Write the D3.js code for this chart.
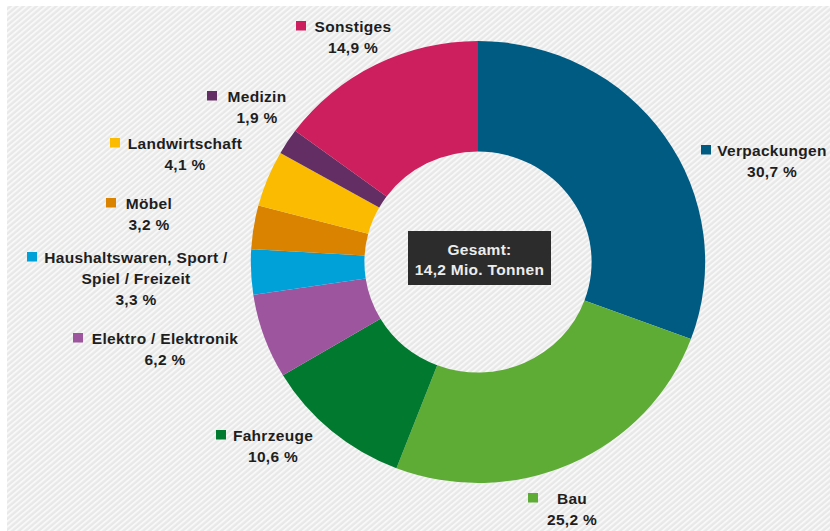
<!DOCTYPE html>
<html>
<head>
<meta charset="utf-8">
<script src="https://cdn.jsdelivr.net/npm/d3@7"></script>
<style>
  html, body { margin: 0; padding: 0; background: #ffffff; }
  svg { display: block; }
  text { font-family: "Liberation Sans", Arial, sans-serif; font-weight: bold; }
</style>
</head>
<body>
<svg id="chart" width="830" height="531"></svg>
<script>
// Kunststoffverbrauch nach Branchen (Anteile in %)
const categories = ["Verpackungen", "Bau", "Fahrzeuge", "Elektro / Elektronik",
  "Haushaltswaren, Sport / Spiel / Freizeit", "Möbel", "Landwirtschaft", "Medizin", "Sonstiges"];
const shares = [30.7, 25.2, 10.6, 6.2, 3.3, 3.2, 4.1, 1.9, 14.9];
const colors = ["#005b83", "#5eac36", "#017a2f", "#9d559e", "#00a0d9",
  "#d98300", "#fbbb00", "#622e63", "#cd1f5d"];
// label text lines per category (name split where it wraps)
const labelLines = [["Verpackungen"], ["Bau"], ["Fahrzeuge"], ["Elektro / Elektronik"],
  ["Haushaltswaren, Sport /", "Spiel / Freizeit"], ["Möbel"], ["Landwirtschaft"], ["Medizin"], ["Sonstiges"]];
const totalLines = ["Gesamt:", "14,2 Mio. Tonnen"];

// label placement: centre x of the text block, first baseline, left edge of the marker
const labelLayout = [
  { cx: 772, y: 156, mx: 701 },
  { cx: 572, y: 504, mx: 528 },
  { cx: 273, y: 441, mx: 216 },
  { cx: 165, y: 344, mx: 73 },
  { cx: 136, y: 263, mx: 27 },
  { cx: 149, y: 209, mx: 106 },
  { cx: 185, y: 149, mx: 110 },
  { cx: 257, y: 102, mx: 207 },
  { cx: 353, y: 32, mx: 296 }
];

const svg = d3.select("#chart");
const W = 830, H = 531;

// hatched background
const defs = svg.append("defs");
const pat = defs.append("pattern")
  .attr("id", "hatch")
  .attr("patternUnits", "userSpaceOnUse")
  .attr("width", 4.2).attr("height", 4.2)
  .attr("patternTransform", "rotate(50)");
pat.append("rect").attr("width", 4.2).attr("height", 4.2).attr("fill", "#e8e8e8");
pat.append("rect").attr("x", 0).attr("width", 1.9).attr("height", 4.2).attr("fill", "#f8f8f8");

svg.append("rect").attr("x", 0).attr("y", 0).attr("width", W).attr("height", H).attr("fill", "#ffffff");
svg.append("rect").attr("x", 7).attr("y", 6).attr("width", W - 7).attr("height", H - 6).attr("fill", "url(#hatch)");

// donut
const cx = 478, cy = 262, rOuter = 221, rInner = 110.5, stretchX = 1.028;
const pie = d3.pie().sort(null).value(d => d)(shares);
const arc = d3.arc().innerRadius(rInner).outerRadius(rOuter);

const g = svg.append("g").attr("transform", `translate(${cx},${cy}) scale(${stretchX},1)`);
g.selectAll("path.slice")
  .data(pie)
  .join("path")
  .attr("class", "slice")
  .attr("d", arc)
  .attr("fill", (d, i) => colors[i]);

// total box in the hole
const box = svg.append("g");
box.append("rect")
  .attr("x", 408).attr("y", 231).attr("width", 143).attr("height", 54)
  .attr("fill", "#2c2c2c");
box.selectAll("text")
  .data(totalLines)
  .join("text")
  .attr("x", 479.5)
  .attr("y", (d, i) => 254.5 + i * 20.5)
  .attr("text-anchor", "middle")
  .attr("font-size", 15.5)
  .attr("letter-spacing", 0.3)
  .attr("fill", "#ececec")
  .text(d => d);

// labels
const fmt = d3.formatLocale({ decimal: ",", thousands: ".", grouping: [3], currency: ["", " €"] }).format(".1f");
const lineH = 21;
const labels = svg.append("g");
categories.forEach((name, i) => {
  const L = labelLayout[i];
  const lines = labelLines[i].concat([fmt(shares[i]) + " %"]);
  labels.append("rect")
    .attr("x", L.mx).attr("y", L.y - 11)
    .attr("width", 10).attr("height", 9.5)
    .attr("fill", colors[i]);
  lines.forEach((t, j) => {
    labels.append("text")
      .attr("x", L.cx)
      .attr("y", L.y + j * lineH)
      .attr("text-anchor", "middle")
      .attr("font-size", 15.5)
      .attr("letter-spacing", 0.3)
      .attr("fill", "#1e1e1e")
      .text(t);
  });
});
</script>
</body>
</html>
